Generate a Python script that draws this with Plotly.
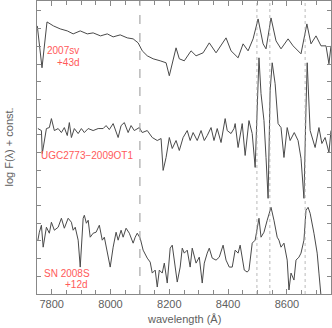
import plotly.graph_objects as go

# 2007sv +43d
wave_sv = [7751, 7767, 7784, 7806, 7829, 7853, 7873, 7897, 7921, 7941, 7966, 7989, 8009, 8033,
           8057, 8077, 8094, 8108, 8125, 8145, 8169, 8189, 8200, 8213, 8223, 8234, 8251, 8274,
           8291, 8315, 8336, 8359, 8376, 8393, 8410, 8434, 8451, 8468, 8485, 8502, 8519, 8529,
           8546, 8563, 8580, 8604, 8621, 8648, 8668, 8682, 8699, 8716, 8733, 8743, 8750]
flux_sv = [26.9, 22.7, 27.3, 26.9, 26.6, 26.4, 26.1, 26.4, 26.1, 26.2, 25.9, 26.1, 25.8, 26.0,
           25.7, 25.6, 25.2, 24.4, 23.9, 23.6, 23.4, 23.2, 21.9, 23.4, 24.7, 23.6, 23.4, 24.4,
           23.9, 24.2, 25.2, 24.2, 24.9, 25.7, 24.4, 23.7, 25.1, 24.4, 25.6, 27.6, 25.1, 24.6,
           27.7, 25.4, 24.6, 25.6, 24.9, 24.1, 27.1, 25.1, 25.9, 24.9, 24.9, 23.1, 24.9]

# UGC2773-2009OT1
wave_ot = [7753, 7765, 7768, 7775, 7782, 7792, 7799, 7809, 7822, 7833, 7843, 7853, 7860, 7867,
           7877, 7890, 7901, 7911, 7924, 7941, 7958, 7975, 7985, 7996, 8009, 8026, 8036, 8047,
           8060, 8070, 8081, 8098, 8108, 8125, 8142, 8159, 8172, 8179, 8189, 8200, 8210, 8223,
           8234, 8247, 8261, 8271, 8281, 8295, 8308, 8319, 8329, 8342, 8352, 8363, 8376, 8390,
           8397, 8410, 8420, 8424, 8434, 8448, 8458, 8471, 8482, 8492, 8499, 8505, 8512, 8522,
           8529, 8536, 8543, 8550, 8560, 8570, 8580, 8590, 8601, 8611, 8625, 8638, 8648, 8658,
           8665, 8669, 8679, 8696, 8709, 8719, 8730, 8743, 8750]
flux_ot = [16.6, 16.4, 14.1, 15.4, 16.6, 16.7, 17.6, 16.4, 16.6, 16.2, 16.7, 15.9, 17.2, 15.7,
           16.6, 16.1, 16.6, 16.2, 16.6, 16.4, 16.6, 16.6, 16.9, 16.5, 17.1, 15.7, 16.9, 17.2,
           16.2, 16.9, 16.4, 16.7, 16.2, 16.4, 15.7, 15.4, 15.6, 12.4, 13.7, 15.7, 14.6, 15.4,
           14.4, 15.7, 16.4, 15.4, 16.2, 15.4, 16.4, 15.4, 15.9, 16.7, 15.4, 16.6, 15.2, 17.6,
           16.4, 16.1, 16.6, 17.1, 14.7, 17.1, 13.9, 17.4, 16.1, 12.7, 18.7, 23.7, 20.1, 17.4,
           13.7, 9.6, 20.4, 23.2, 21.1, 17.1, 16.7, 13.7, 16.7, 15.4, 16.2, 15.4, 13.6, 9.6,
           18.7, 23.2, 16.4, 14.7, 16.7, 15.1, 15.7, 14.2, 16.4]

# SN 2008S +12d
wave_08s = [7753, 7758, 7765, 7771, 7782, 7792, 7799, 7809, 7822, 7833, 7843, 7856, 7867, 7873,
            7880, 7890, 7897, 7907, 7911, 7918, 7924, 7931, 7941, 7951, 7962, 7972, 7979, 7989,
            7999, 8009, 8019, 8026, 8036, 8043, 8053, 8064, 8077, 8084, 8091, 8101, 8111, 8125,
            8135, 8142, 8152, 8159, 8166, 8176, 8183, 8193, 8203, 8210, 8223, 8227, 8237, 8244,
            8251, 8261, 8271, 8278, 8291, 8302, 8312, 8319, 8329, 8336, 8346, 8359, 8370, 8383,
            8393, 8404, 8414, 8424, 8434, 8441, 8455, 8465, 8471, 8482, 8492, 8499, 8505, 8512,
            8522, 8533, 8539, 8546, 8556, 8567, 8573, 8580, 8590, 8601, 8607, 8614, 8624, 8631,
            8641, 8648, 8658, 8665, 8672, 8679, 8692, 8703, 8709, 8716]
flux_08s = [5.4, 6.2, 6.9, 4.7, 6.7, 6.1, 7.2, 6.4, 6.7, 7.6, 6.6, 7.6, 7.2, 6.4,
            6.7, 5.4, 2.7, 7.6, 7.9, 7.1, 7.4, 5.7, 6.1, 6.2, 6.9, 5.4, 5.7, 4.1,
            2.7, 4.7, 6.2, 5.4, 6.4, 5.7, 6.6, 6.1, 5.1, 5.7, 6.1, 5.6, 4.4, 3.6,
            3.2, 2.1, 2.4, 0.7, 2.4, 2.1, 3.1, 1.1, 4.6, 4.9, 2.4, 1.2, 2.7, 4.6,
            4.1, 4.4, 2.7, 4.6, 3.1, 3.7, 1.1, 3.1, 4.1, 4.6, 3.6, 3.4, 3.7, 4.9,
            3.4, 2.7, 2.7, 4.4, 4.1, 4.9, 2.4, 2.2, 2.4, 5.1, 5.4, 6.7, 7.6, 5.7,
            6.2, 7.4, 8.1, 8.7, 7.4, 5.7, 5.4, 4.7, 5.1, 3.4, 0.4, 2.1, 1.4, 3.4,
            3.7, 4.1, 5.4, 8.4, 8.7, 8.1, 6.1, 4.1, 2.1, -0.2]

dashed_line = 8100
ca_lines = [8498, 8542, 8662]

labels = [("2007sv", 7840, 24.4), ("+43d", 7856, 23.2),
          ("UGC2773\u22122009OT1", 7921, 13.9),
          ("SN 2008S", 7853, 2.1), ("+12d", 7884, 1.0)]

x_range = [7750, 8750]
y_range = [0, 29.4]

fig = go.Figure()

for w, f in [(wave_sv, flux_sv), (wave_ot, flux_ot), (wave_08s, flux_08s)]:
    fig.add_trace(go.Scatter(x=w, y=f, mode='lines',
                             line=dict(color='#4a4a4a', width=1), hoverinfo='skip'))

fig.add_vline(x=dashed_line, line=dict(color='#a8a8a8', width=1.2, dash='dash'))
for ca in ca_lines:
    fig.add_vline(x=ca, line=dict(color='#a8a8a8', width=0.8, dash='dot'))

for text, x, y in labels:
    fig.add_annotation(x=x, y=y, text=text, showarrow=False,
                       font=dict(color='#ff5a5a', size=10, family='Liberation Sans'))

# axis titles as annotations so the plot frame stays put
fig.add_annotation(xref='paper', yref='paper', x=0.5, y=0, yshift=-25, yanchor='middle',
                   text='wavelength (\u00c5)', showarrow=False,
                   font=dict(size=11, color='#606060'))
fig.add_annotation(xref='paper', yref='paper', x=0, y=0.5, xshift=-29, xanchor='center',
                   textangle=-90, text='log F(\u03bb) + const.', showarrow=False,
                   font=dict(size=11, color='#606060'))

axis_style = dict(showgrid=False, zeroline=False, showline=True, linecolor='#888888',
                  linewidth=1, mirror='allticks', ticks='inside', tickcolor='#888888',
                  automargin=False)

fig.update_xaxes(range=x_range, dtick=200, tick0=7800, ticklen=5,
                 minor=dict(dtick=50, ticks='inside', ticklen=4, tickcolor='#888888'),
                 tickfont=dict(size=11, color='#606060'),
                 **axis_style)
fig.update_yaxes(range=y_range, dtick=1.775, tick0=0, ticklen=4, showticklabels=False,
                 **axis_style)

fig.update_layout(
    width=332, height=328,
    showlegend=False,
    plot_bgcolor='white',
    paper_bgcolor='white',
    font=dict(family='Liberation Sans'),
    margin=dict(l=37, r=1, t=1, b=34)
)

# drop the browser's default 8px body margin so the figure sits at the window corner
fig.write_html("out.html", config={'displayModeBar': False},
               post_script="document.body.style.margin='0';")
